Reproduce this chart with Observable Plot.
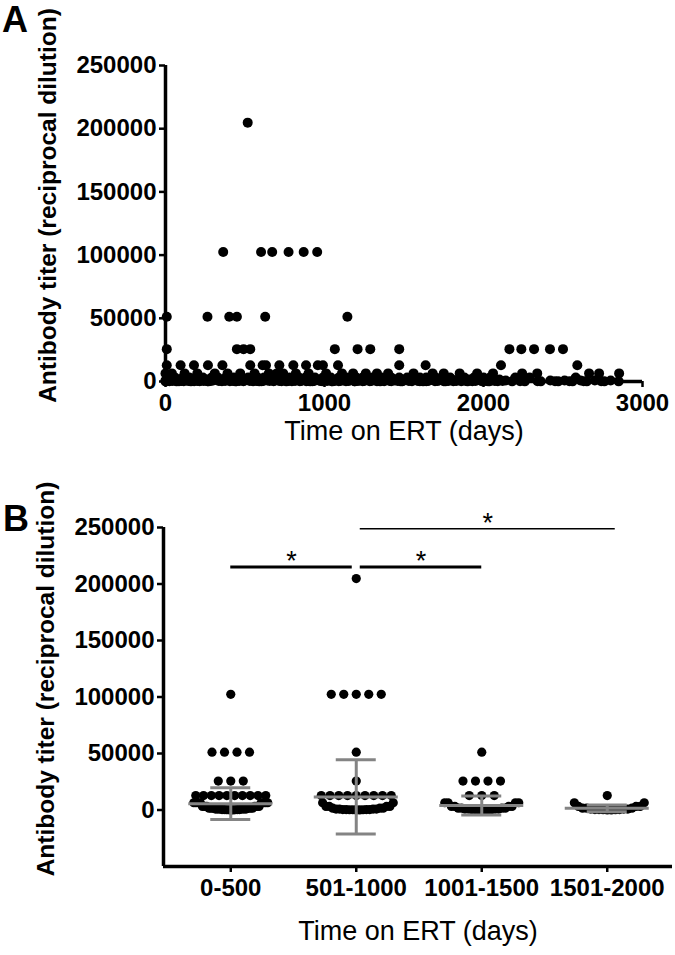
<!DOCTYPE html>
<html><head><meta charset="utf-8">
<script src="https://cdn.jsdelivr.net/npm/d3@7"></script>
<script src="https://cdn.jsdelivr.net/npm/@observablehq/plot@0.6"></script>
<style>
html,body{margin:0;padding:0;background:#fff;}
#wrap{position:relative;width:675px;height:955px;overflow:hidden;background:#fff;}
.panel{position:absolute;left:0;}
.letter{position:absolute;font:bold 36px "Liberation Sans",Arial,sans-serif;line-height:36px;color:#000;}
</style></head><body>
<div id="wrap">
  <div class="panel" id="pa" style="top:0"></div>
  <div class="panel" id="pb" style="top:460px"></div>
  <div class="letter" style="left:2px;top:2px">A</div>
  <div class="letter" style="left:3px;top:501px">B</div>
</div>
<script>
// ---------- Panel A: days on ERT for each antibody titer ----------
const daysA204800 = [517];
const daysA102400 = [363, 601, 671, 774, 869, 954];
const daysA51200 = [8, 264, 401, 449, 627, 1144];
const daysA25600 = [8, 449, 491, 533, 1065, 1208, 1288, 1470, 2163, 2238, 2318, 2418, 2500];
const daysA12800 = [8, 95, 179, 267, 358, 533, 611, 632, 716, 804, 884, 958, 990, 1085, 1470, 1636, 2110, 2590];
const daysA6400 = [0, 40, 120, 200, 310, 390, 470, 560, 650, 700, 740, 820, 900, 1010, 1110, 1180, 1260, 1330, 1400, 1560, 1680, 1750, 1850, 1960, 2060, 2243, 2338, 2664, 2727, 2853];
const daysA3200 = [15, 60, 110, 150, 190, 235, 290, 330, 380, 430, 480, 520, 580, 620, 680, 720, 780, 840, 880, 940, 990, 1040, 1090, 1140, 1200, 1240, 1300, 1360, 1420, 1470, 1520, 1600, 1640, 1700, 1790, 1880, 1940, 2000, 2040, 2200, 2290, 2580];
const daysA1600 = [20, 50, 95, 125, 165, 210, 260, 280, 320, 365, 395, 420, 470, 510, 560, 590, 630, 665, 705, 745, 790, 830, 870, 905, 950, 1000, 1030, 1080, 1130, 1175, 1230, 1265, 1310, 1345, 1395, 1455, 1510, 1565, 1610, 1680, 1740, 1800, 1850, 1910, 1970, 2050, 2100];
const daysA800 = [0, 30, 80, 135, 175, 225, 250, 300, 345, 410, 455, 500, 545, 600, 640, 690, 760, 800, 860, 920, 965, 1020, 1070, 1120, 1160, 1220, 1280, 1320, 1380, 1440, 1500, 1540, 1580, 1620, 1660, 1720, 1770, 1820, 1870, 1920, 1980, 2020, 2080, 2140, 2420, 2510, 2610, 2700, 2800];
const daysA400 = [10, 45, 100, 145, 200, 240, 285, 335, 375, 425, 465, 530, 575, 615, 655, 715, 775, 815, 850, 895, 935, 975, 1015, 1060, 1100, 1150, 1210, 1250, 1295, 1340, 1410, 1460, 1530, 1590, 1650, 1710, 1780, 1830, 1890, 1950, 2010, 2070, 2120];
const daysA200 = [25, 85, 115, 180, 215, 265, 355, 405, 445, 490, 550, 605, 680, 730, 795, 845, 885, 925, 985, 1045, 1090, 1135, 1190, 1240, 1285, 1330, 1375, 1420, 1490, 1550, 1600, 1640, 1695, 1750, 1810, 1860, 1930, 1990, 2040, 2090, 2230, 2340, 2450, 2540, 2630, 2740];
const daysA100 = [0, 5, 70, 160, 270, 440, 590, 760, 910, 1050, 1190, 1350, 1480, 1620, 1760, 1900, 2030, 2180, 2260, 2360, 2470, 2560, 2650, 2760, 2850];
const xTicksA = [0, 1000, 2000, 3000];
const yTicks = [0, 50000, 100000, 150000, 200000, 250000];

// ---------- Panel B: titers grouped by time on ERT ----------
const groups = ["0-500", "501-1000", "1001-1500", "1501-2000"];
const titerLevelsB = [204800, 102400, 51200, 25600, 12800, 6400, 3200, 1600, 800, 400, 200, 100];
const countsB0 = [0, 1, 4, 3, 10, 8, 6, 6, 6, 4, 3, 2];
const countsB1 = [1, 5, 1, 1, 9, 2, 4, 3, 4, 4, 3, 2];
const countsB2 = [0, 0, 1, 4, 3, 4, 4, 4, 4, 3, 2, 2];
const countsB3 = [0, 0, 0, 0, 1, 2, 3, 3, 3, 3, 2, 2];
const meanB = [5600, 11600, 4000, 1500];
const sdB = [14000, 32800, 8400, 3000];
const comparisons = [
  {a: 0, b: 1, titer: 215000, label: "*"},
  {a: 1, b: 2, titer: 215000, label: "*"},
  {a: 1, b: 3, titer: 249000, label: "*"}
];

const yTitle = "Antibody titer (reciprocal dilution)";
const xTitle = "Time on ERT (days)";
const FONT = '"Liberation Sans", Arial, Helvetica, sans-serif';
const fmt = d3.format("d");

// ----- Panel A -----
const dataA = [];
[[204800, daysA204800], [102400, daysA102400], [51200, daysA51200], [25600, daysA25600],
 [12800, daysA12800], [6400, daysA6400], [3200, daysA3200], [1600, daysA1600], [800, daysA800],
 [400, daysA400], [200, daysA200], [100, daysA100]]
  .forEach(([t, days]) => days.forEach(d => dataA.push({day: d, titer: t})));

const plotA = Plot.plot({
  width: 675, height: 460,
  marginTop: 65, marginBottom: 79, marginLeft: 165, marginRight: 33,
  style: {fontFamily: FONT, fontSize: "24px", fontWeight: "bold", color: "#000", background: "transparent", overflow: "visible"},
  x: {domain: [0, 3000]},
  y: {domain: [0, 250000]},
  marks: [
    Plot.axisY({ticks: yTicks, tickFormat: fmt, tickSize: 6, tickPadding: 3, strokeWidth: 2.5, label: null}),
    Plot.axisX({ticks: xTicksA, tickFormat: fmt, tickSize: 6, tickPadding: 6, strokeWidth: 2.5, label: null}),
    Plot.ruleX([0], {strokeWidth: 3.5, stroke: "#000"}),
    Plot.ruleY([0], {strokeWidth: 3.5, stroke: "#000"}),
    Plot.dot(dataA, {x: "day", y: "titer", r: 5, fill: "#000", stroke: "none"}),
    Plot.text([yTitle], {frameAnchor: "left", textAnchor: "middle", rotate: -90, dx: -117, dy: -18, fontSize: 24.5, fontWeight: "bold"}),
    Plot.text([xTitle], {frameAnchor: "bottom", dy: 58, fontSize: 27, fontWeight: "normal"})
  ]
});
document.getElementById("pa").appendChild(plotA);

// ----- Panel B -----
const widthB = 675, heightB = 495, mL = 163, mR = 3, mT = 67, mB = 89;
const xDomB = [-0.536, 3.52];
const pxPerUnit = (widthB - mL - mR) / (xDomB[1] - xDomB[0]);
const rowMaxWidth = 70, maxStep = 12.5, lowCut = 6400, lowWidth = 74;

function layout(counts, gi) {
  const out = [], high = new Map(), low = [];
  titerLevelsB.forEach((t, k) => {
    for (let j = 0; j < counts[k]; j++) {
      if (t > lowCut) { if (!high.has(t)) high.set(t, 0); high.set(t, high.get(t) + 1); }
      else low.push(t);
    }
  });
  for (const [t, n] of high) {
    const s = n > 1 ? Math.min(maxStep, rowMaxWidth / (n - 1)) : 0;
    for (let j = 0; j < n; j++) out.push({group: gi, titer: t, off: (j - (n - 1) / 2) * s});
  }
  low.sort((a, b) => a - b);
  const n = low.length;
  const s = n > 1 ? Math.min(maxStep, lowWidth / (2 * Math.ceil((n - 1) / 2))) : 0;
  low.forEach((t, j) => {
    const k = Math.ceil(j / 2), sign = j % 2 ? 1 : -1;
    out.push({group: gi, titer: t, off: sign * k * s});
  });
  return out.map(d => ({...d, x: gi + d.off / pxPerUnit}));
}
const dataB = [countsB0, countsB1, countsB2, countsB3].flatMap((c, i) => layout(c, i));

const stats = groups.map((g, i) => ({i, mean: meanB[i], sd: sdB[i]}));
const meanHalf = 42 / pxPerUnit, capHalf = 20 / pxPerUnit, gap = 4 / pxPerUnit;
const brackets = comparisons.map(c => {
  const x1 = c.a + (c.a === 1 ? gap : 0);
  const x2 = c.b - (c.b === 1 ? gap : 0) + (c.b === 3 ? 2 * gap : 0);
  return {...c, x1, x2, mid: (x1 + x2) / 2, w: c.titer > 240000 ? 1.5 : 3};
});

const plotB = Plot.plot({
  width: widthB, height: heightB,
  marginTop: mT, marginBottom: mB, marginLeft: mL, marginRight: mR,
  style: {fontFamily: FONT, fontSize: "24px", fontWeight: "bold", color: "#000", background: "transparent", overflow: "visible"},
  x: {type: "linear", domain: xDomB},
  y: {domain: [-50000, 250000]},
  marks: [
    Plot.axisY({ticks: yTicks, tickFormat: fmt, tickSize: 6, tickPadding: 3, strokeWidth: 2.5, label: null}),
    Plot.axisX({ticks: [0, 1, 2, 3], tickFormat: i => groups[i], tickSize: 6, tickPadding: 6, strokeWidth: 2.5, label: null}),
    Plot.ruleX([xDomB[0]], {strokeWidth: 3.5, stroke: "#000"}),
    Plot.ruleY([-50000], {strokeWidth: 3.5, stroke: "#000"}),
    Plot.dot(dataB, {x: "x", y: "titer", r: 4.6, fill: "#000", stroke: "none"}),
    // mean and SD in grey
    Plot.ruleX(stats, {x: "i", y1: d => d.mean - d.sd, y2: d => d.mean + d.sd, stroke: "#848484", strokeWidth: 3}),
    Plot.ruleY(stats, {y: "mean", x1: d => d.i - meanHalf, x2: d => d.i + meanHalf, stroke: "#848484", strokeWidth: 3}),
    Plot.ruleY(stats, {y: d => d.mean + d.sd, x1: d => d.i - capHalf, x2: d => d.i + capHalf, stroke: "#848484", strokeWidth: 3}),
    Plot.ruleY(stats, {y: d => d.mean - d.sd, x1: d => d.i - capHalf, x2: d => d.i + capHalf, stroke: "#848484", strokeWidth: 3}),
    // significance brackets
    Plot.ruleY(brackets, {y: "titer", x1: "x1", x2: "x2", strokeWidth: "w", stroke: "#000", clip: false}),
    Plot.text(brackets, {x: "mid", y: "titer", text: "label", lineAnchor: "bottom", dy: 3, fontSize: 27, fontWeight: "normal"}),
    Plot.text([yTitle], {frameAnchor: "left", textAnchor: "middle", rotate: -90, dx: -117, dy: -18, fontSize: 24.5, fontWeight: "bold"}),
    Plot.text([xTitle], {frameAnchor: "bottom", dy: 73, fontSize: 27, fontWeight: "normal"})
  ]
});
document.getElementById("pb").appendChild(plotB);
</script>
</body></html>
